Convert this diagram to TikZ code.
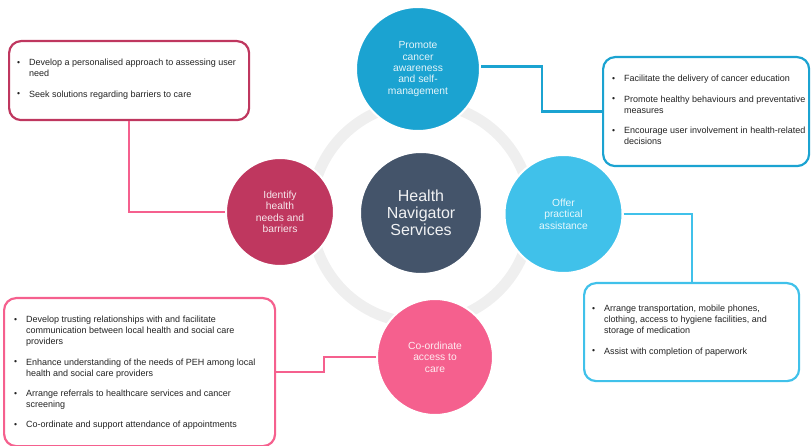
\documentclass[tikz,border=0pt]{standalone}
\usepackage{fontspec}
\setmainfont{Liberation Sans}
\usetikzlibrary{calc}
\definecolor{hubcol}{HTML}{44546A}
\definecolor{topcol}{HTML}{1BA3D1}
\definecolor{rightcol}{HTML}{40C1EA}
\definecolor{leftcol}{HTML}{BF375F}
\definecolor{botcol}{HTML}{F5608E}
\definecolor{ringcol}{HTML}{EFEFEF}
\definecolor{txtcol}{HTML}{222222}
\newcommand\bitem[1]{\par\noindent\hangindent=12pt\hangafter=1\makebox[12pt][l]{\raisebox{0.3pt}{\scalebox{0.95}{\textbullet}}}#1\par}
\newcommand\bgap{\vspace{9.3pt}}
\newcommand\nl{\hfil\break}
\newcommand\blist[1]{\parbox[t]{270pt}{\fontsize{9}{11}\selectfont\raggedright\parindent=0pt #1}}
\tikzset{
  disc/.style={circle, inner sep=0pt, draw=white, line width=2pt, align=center,
    font=\fontsize{10.3}{11.4}\selectfont},
  hubdisc/.style={disc, fill=hubcol, text=white!92!hubcol, font=\fontsize{16}{17}\selectfont},
  infobox/.style={rectangle, rounded corners=12pt, line width=2.2pt, anchor=north west, inner sep=0pt},
  boxtext/.style={anchor=base west, inner sep=0pt, text=txtcol},
  link/.style={line width=2.2pt}
}
\begin{document}
\begin{tikzpicture}[x=1pt,y=-1pt]
\useasboundingbox (0,0) rectangle (811,446);
% ring
\coordinate (hubc) at (421,213);
\draw[ringcol, line width=11pt] (hubc) circle[radius=110pt];
% circles
\node[hubdisc, minimum size=122pt] (hub) at (hubc) {Health\\Navigator\\Services};
\node[disc, fill=topcol, text=white!88!topcol, minimum size=124pt] (top) at (418,69) {Promote\\cancer\\awareness\\and self-\\management};
\node[disc, fill=rightcol, text=white!88!rightcol, minimum size=118pt] (right) at (563.5,214) {Offer\\practical\\assistance};
\node[disc, fill=leftcol, text=white!88!leftcol, minimum size=108pt] (left) at (280,212) {Identify\\health\\needs and\\barriers};
\node[disc, fill=botcol, text=white!88!botcol, minimum size=116pt] (bottom) at (435,357) {Co-ordinate\\access to\\care};
% boxes
\node[infobox, draw=leftcol, minimum width=240pt, minimum height=79pt] (boxTL) at (8,40) {};
\node[infobox, draw=topcol, minimum width=206pt, minimum height=109pt] (boxTR) at (602,56) {};
\node[infobox, draw=rightcol, minimum width=215pt, minimum height=98pt] (boxBR) at (583,282) {};
\node[infobox, draw=botcol, minimum width=271pt, minimum height=148pt] (boxBL) at (3,297) {};
% connectors
\coordinate (k1) at (542,0);
\coordinate (k4) at (324,0);
\coordinate (topout) at ($(top.east)+(0,-2.5)$);
\draw[link, topcol] (topout) -- (topout -| k1) |- (boxTR.west);
\draw[link, rightcol] (right.east) -| (boxBR.north);
\draw[link, botcol] (left.west) -| (boxTL.south);
\draw[link, botcol] (bottom.west) -- (bottom.west -| k4) |- (boxBL.east);
% texts
\node[boxtext] (tTL) at (17,66) {\blist{%
\bitem{Develop a personalised approach to assessing user\nl need}\bgap
\bitem{Seek solutions regarding barriers to care}}};
\node[boxtext] (tTR) at (612,82) {\blist{%
\bitem{Facilitate the delivery of cancer education}\bgap
\bitem{Promote healthy behaviours and preventative\nl measures}\bgap
\bitem{Encourage user involvement in health-related\nl decisions}}};
\node[boxtext] (tBR) at (592,312) {\blist{%
\bitem{Arrange transportation, mobile phones,\nl clothing, access to hygiene facilities, and\nl storage of medication}\bgap
\bitem{Assist with completion of paperwork}}};
\node[boxtext] (tBL) at (14,323) {\blist{%
\bitem{Develop trusting relationships with and facilitate\nl communication between local health and social care\nl providers}\bgap
\bitem{Enhance understanding of the needs of PEH among local\nl health and social care providers}\bgap
\bitem{Arrange referrals to healthcare services and cancer\nl screening}\bgap
\bitem{Co-ordinate and support attendance of appointments}}};
\end{tikzpicture}
\end{document}
